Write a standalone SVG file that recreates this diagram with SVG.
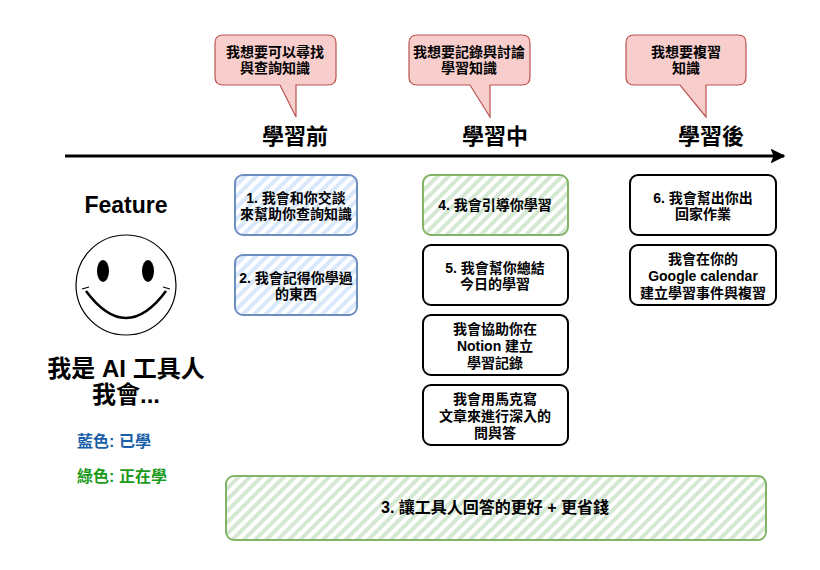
<svg xmlns="http://www.w3.org/2000/svg" width="820" height="570" viewBox="0 0 820 570">
<defs>
<pattern id="hb" width="8" height="8" patternUnits="userSpaceOnUse" patternTransform="rotate(45)">
<rect width="8" height="8" fill="#ffffff"/><rect width="4" height="8" fill="#dae8fc"/>
</pattern>
<pattern id="hg" width="8" height="8" patternUnits="userSpaceOnUse" patternTransform="rotate(45)">
<rect width="8" height="8" fill="#ffffff"/><rect width="4" height="8" fill="#d5e8d4"/>
</pattern>
<marker id="ah" viewBox="0 0 10 10" refX="9" refY="5" markerWidth="5" markerHeight="5" orient="auto" markerUnits="strokeWidth">
<path d="M0,0 L10,5 L0,10 L2,5 Z" fill="#000"/>
</marker>
</defs>
<style>
text{font-family:"Liberation Sans","Noto Sans CJK TC",sans-serif;font-weight:bold;text-anchor:middle;fill:#000}
.t13{font-size:14px}
.h{font-size:22px}
.call{fill:#f8cecc;stroke:#b85450;stroke-width:1.2}
.blue{fill:url(#hb);stroke:#6c8ebf;stroke-width:2}
.green{fill:url(#hg);stroke:#82b366;stroke-width:2}
.plain{fill:#fff;stroke:#000;stroke-width:2}
</style>
<rect width="820" height="570" fill="#fff"/>
<g id="connectors">
<line x1="65" y1="156" x2="784" y2="156" stroke="#000" stroke-width="3" marker-end="url(#ah)"/>
</g>
<g id="callout1">
<path class="call" d="M223,35 H328 Q336,35 336,43 V77 Q336,85 328,85 H296 V117 L280,85 H223 Q215,85 215,77 V43 Q215,35 223,35 Z"/>
<text class="t13" x="275" y="57">我想要可以尋找</text>
<text class="t13" x="275" y="73">與查詢知識</text>
</g>
<g id="callout2">
<path class="call" d="M417,35 H522 Q530,35 530,43 V77 Q530,85 522,85 H490 V117 L470,85 H417 Q409,85 409,77 V43 Q409,35 417,35 Z"/>
<text class="t13" x="469" y="57">我想要記錄與討論</text>
<text class="t13" x="469" y="73">學習知識</text>
</g>
<g id="callout3">
<path class="call" d="M634,35 H738 Q746,35 746,43 V77 Q746,85 738,85 H706 V117 L680,85 H634 Q626,85 626,77 V43 Q626,35 634,35 Z"/>
<text class="t13" x="686" y="57">我想要複習</text>
<text class="t13" x="686" y="73">知識</text>
</g>
<g id="headings">
<text class="h" x="295" y="144">學習前</text>
<text class="h" x="495" y="144">學習中</text>
<text class="h" x="711" y="144">學習後</text>
</g>
<g id="feature">
<text x="126" y="213" style="font-size:23px">Feature</text>
<circle cx="126" cy="285" r="50" fill="#fff" stroke="#000" stroke-width="1.2"/>
<ellipse cx="103" cy="271" rx="6" ry="11" fill="#000"/>
<ellipse cx="148" cy="271" rx="6" ry="11" fill="#000"/>
<path d="M86,291 Q126,345 166,291" fill="none" stroke="#000" stroke-width="2.5"/>
<path d="M82,289 L89,287 M170,289 L163,287" stroke="#000" stroke-width="1.2"/>
<text x="126" y="377" style="font-size:24px">我是 AI 工具人</text>
<text x="126" y="403" style="font-size:24px">我會...</text>
<text x="114" y="447" style="font-size:16px;fill:#1a5fa8">藍色: 已學</text>
<text x="122" y="482" style="font-size:16px;fill:#1a9a1a">綠色: 正在學</text>
</g>
<g id="n1">
<rect class="blue" x="235" y="175" width="122" height="60" rx="8"/>
<text class="t13" x="296" y="203">1. 我會和你交談</text>
<text class="t13" x="296" y="219">來幫助你查詢知識</text>
</g>
<g id="n2">
<rect class="blue" x="235" y="255" width="122" height="60" rx="8"/>
<text class="t13" x="296" y="283">2. 我會記得你學過</text>
<text class="t13" x="296" y="299">的東西</text>
</g>
<g id="n4">
<rect class="green" x="423" y="175" width="145" height="60" rx="8"/>
<text class="t13" x="495" y="210">4. 我會引導你學習</text>
</g>
<g id="n5">
<rect class="plain" x="423" y="245" width="145" height="60" rx="8"/>
<text class="t13" x="495" y="273">5. 我會幫你總結</text>
<text class="t13" x="495" y="289">今日的學習</text>
</g>
<g id="n_notion">
<rect class="plain" x="423" y="315" width="145" height="60" rx="8"/>
<text class="t13" x="495" y="334">我會協助你在</text>
<text class="t13" x="495" y="351">Notion 建立</text>
<text class="t13" x="495" y="368">學習記錄</text>
</g>
<g id="n_md">
<rect class="plain" x="423" y="385" width="145" height="60" rx="8"/>
<text class="t13" x="495" y="404">我會用馬克寫</text>
<text class="t13" x="495" y="421">文章來進行深入的</text>
<text class="t13" x="495" y="438">問與答</text>
</g>
<g id="n6">
<rect class="plain" x="630" y="175" width="146" height="60" rx="8"/>
<text class="t13" x="703" y="203">6. 我會幫出你出</text>
<text class="t13" x="703" y="219">回家作業</text>
</g>
<g id="n_cal">
<rect class="plain" x="630" y="245" width="146" height="60" rx="8"/>
<text class="t13" x="703" y="264">我會在你的</text>
<text class="t13" x="703" y="281">Google calendar</text>
<text class="t13" x="703" y="298">建立學習事件與複習</text>
</g>
<g id="n3">
<rect class="green" x="226" y="476" width="540" height="64" rx="8"/>
<text x="495" y="513" style="font-size:16px">3. 讓工具人回答的更好 + 更省錢</text>
</g>
</svg>
